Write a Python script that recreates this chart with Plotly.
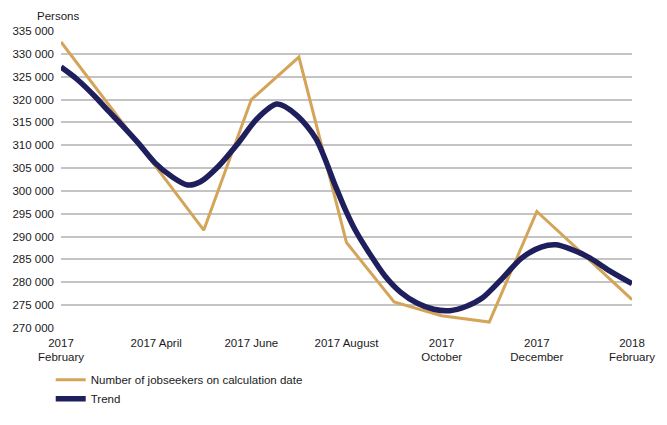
import plotly.graph_objects as go

# Month index 0 = 2017 February ... 12 = 2018 February
month_idx = list(range(13))
tick_vals = [0, 2, 4, 6, 8, 10, 12]
tick_text = ["2017<br>February", "2017 April", "2017 June", "2017 August",
             "2017<br>October", "2017<br>December", "2018<br>February"]

jobseekers = [332600, 319000, 305200, 291400, 320000, 329300, 288700,
              275700, 272700, 271300, 295500, 285900, 276200]

trend_x = [0.00, 0.33, 0.74, 0.95, 1.29, 1.63, 1.97, 2.32, 2.66, 2.93, 3.31,
           3.72, 4.13, 4.54, 4.95, 5.36, 5.77, 5.98, 6.18, 6.46, 6.80, 7.14,
           7.49, 7.83, 8.17, 8.51, 8.86, 9.27, 9.68, 10.09, 10.40, 10.70,
           11.12, 11.53, 12.00]
trend_y = [327100, 324500, 320400, 318000, 314300, 310400, 306200, 303200,
           301300, 302000, 305400, 310400, 315900, 319000, 316600, 311400,
           301000, 295800, 291500, 286700, 281500, 277800, 275400, 274100,
           273800, 274700, 276600, 280800, 285300, 287700, 288200, 287300,
           285300, 282500, 279700]

y_ticks = list(range(270000, 335001, 5000))

FONT = "Liberation Sans, Arial, sans-serif"
GOLD = "#D4A459"
NAVY = "#1F1F5E"

fig = go.Figure()
fig.add_trace(go.Scatter(
    x=month_idx, y=jobseekers, mode="lines",
    name="Number of jobseekers on calculation date",
    line=dict(color=GOLD, width=3),
))
fig.add_trace(go.Scatter(
    x=trend_x, y=trend_y, mode="lines", name="Trend",
    line=dict(color=NAVY, width=5.5, shape="spline", smoothing=0.8),
))

fig.update_layout(
    width=667, height=425,
    margin=dict(l=59, r=24, t=31, b=79),
    paper_bgcolor="white", plot_bgcolor="white",
    separators=". ",
    font=dict(family=FONT, size=11.5, color="#1a1a1a"),
    showlegend=True,
    legend=dict(
        orientation="v", x=-0.018, xanchor="left", y=-0.125, yanchor="top",
        font=dict(family=FONT, size=11.5, color="#1a1a1a"),
        bgcolor="rgba(0,0,0,0)", itemwidth=30, tracegroupgap=0,
    ),
    annotations=[dict(
        text="Persons", xref="paper", yref="paper", x=-0.045, y=1.0,
        xanchor="left", yanchor="bottom", yshift=7, showarrow=False,
        font=dict(family=FONT, size=11.5, color="#1a1a1a"),
    )],
)

fig.update_xaxes(
    range=[0, 12], tickvals=tick_vals, ticktext=tick_text,
    showgrid=False, zeroline=False, showline=False,
    ticks="", ticklabelstandoff=6, ticklabeloverflow="allow",
)
fig.update_yaxes(
    range=[270000, 335000], tickvals=y_ticks, tickformat=",d",
    showgrid=True, gridcolor="#C4C4C4", gridwidth=1.5,
    zeroline=False, showline=False, ticks="", ticklabelstandoff=6,
)

fig.write_html(
    "out.html",
    config={"displayModeBar": False},
    post_script="document.body.style.margin='0';document.body.style.overflow='hidden';",
)
